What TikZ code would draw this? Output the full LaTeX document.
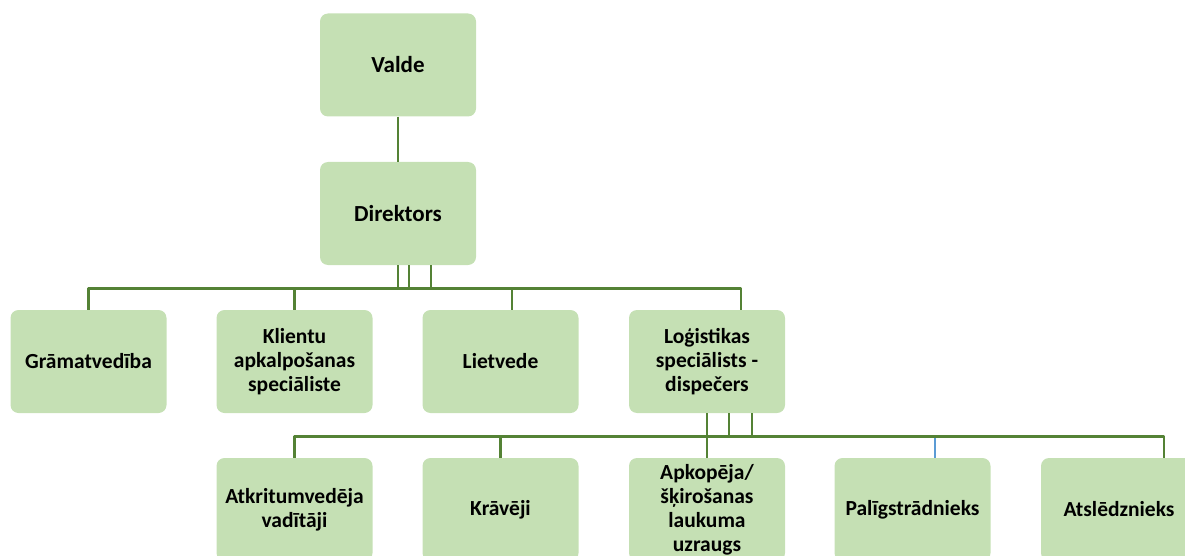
\documentclass[tikz,border=0pt]{standalone}
\usepackage{fontspec}
\setmainfont{Carlito}
\definecolor{boxgreen}{HTML}{C5E0B4}
\definecolor{linkgreen}{HTML}{548235}
\definecolor{linkblue}{HTML}{5B9BD5}
\begin{document}
\begin{tikzpicture}[x=1pt, y=-1pt, line join=round,
    unit/.style={fill=boxgreen, rounded corners=8pt, minimum width=156pt, minimum height=103pt,
        inner sep=0pt, align=center, font=\fontsize{21.5}{24}\selectfont\bfseries},
    head/.style={unit, font=\fontsize{23}{25}\selectfont\bfseries},
    link/.style={draw=linkgreen, line width=2.8pt}]
    \useasboundingbox (0,0) rectangle (1185,556);
    \node[head] (valde) at (398,65) {Valde};
    \node[head] (dir) at (398,213.5) {Direktors};
    \node[unit] (gram) at (88.5,361.5) {Grāmatvedība};
    \node[unit] (klient) at (294.5,361.5) {Klientu\\apkalpošanas\\speciāliste};
    \node[unit] (liet) at (500.5,361.5) {Lietvede};
    \node[unit] (logi) at (707,361.5) {Loģistikas\\speciālists -\\dispečers};
    \node[unit] (atkr) at (294.5,509.5) {Atkritumvedēja\\vadītāji};
    \node[unit] (krav) at (500.5,509.5) {Krāvēji};
    \node[unit] (apk) at (707,509.5) {Apkopēja/\\šķirošanas\\laukuma\\uzraugs};
    \node[unit] (palig) at (912.5,509.5) {Palīgstrādnieks};
    \node[unit] (atsl) at (1119,509.5) {Atslēdznieks};
    \draw[link] (valde) -- (dir);
    % first level
    \draw[link] (dir.south) -- ++(0,24) ([xshift=11pt]dir.south) -- ++(0,24)
        ([xshift=33pt]dir.south) -- ++(0,24);
    \draw[link] (gram.north) -- ++(0,-21) -| ([xshift=34pt]logi.north);
    \draw[link] (klient.north) -- ++(0,-21) ([xshift=11.5pt]liet.north) -- ++(0,-21);
    % second level
    \draw[linkblue, line width=2.8pt] ([xshift=22.5pt]palig.north) -- ++(0,-20);
    \draw[link] (logi.south) -- (apk.north) ([xshift=22pt]logi.south) -- ++(0,24)
        ([xshift=45pt]logi.south) -- ++(0,24);
    \draw[link] (atkr.north) -- ++(0,-21) -| ([xshift=45pt]atsl.north);
    \draw[link] (krav.north) -- ++(0,-21);
\end{tikzpicture}
\end{document}
